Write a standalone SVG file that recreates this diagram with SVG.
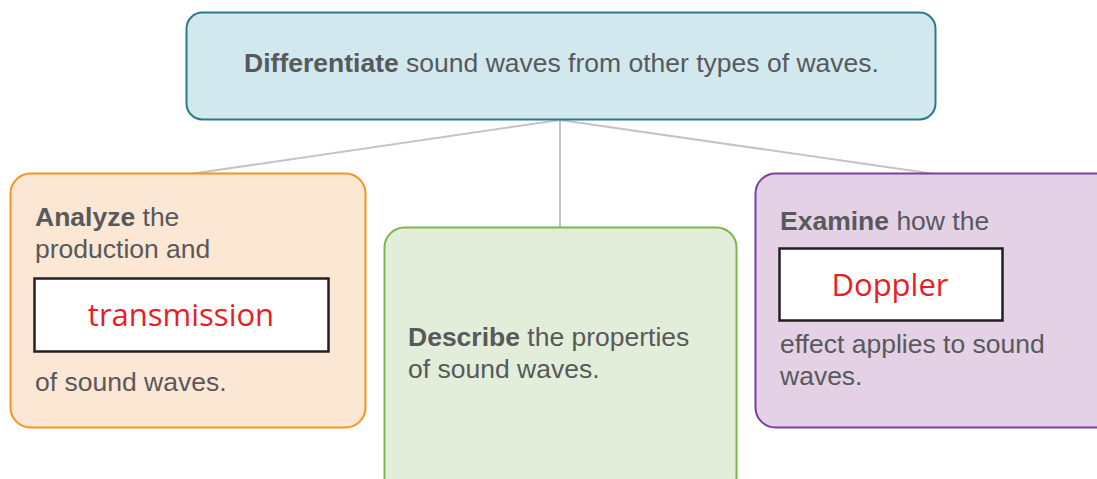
<svg xmlns="http://www.w3.org/2000/svg" width="1097" height="479" viewBox="0 0 1097 479">
<style>
.t{font-family:"Liberation Sans",Arial,sans-serif;font-size:26.5px;fill:#58595b}
.b{font-weight:bold}
.hw{font-family:"Open Sans","DejaVu Sans",sans-serif;font-size:31px;fill:#ec1c24;text-anchor:middle}
.ib{fill:#fff;stroke:#231f20;stroke-width:2.5}
.c{stroke:#c4c4c4;stroke-width:2;fill:none}
</style>
<rect width="1097" height="479" fill="#fff"/>
<g id="connectors">
<line class="c" x1="560" y1="120" x2="190" y2="174"/>
<line class="c" x1="560" y1="120" x2="560" y2="228"/>
<line class="c" x1="560" y1="120" x2="935" y2="174"/>
</g>
<g id="top">
<rect x="186.5" y="12.5" width="749" height="107" rx="16" fill="#d1e8ef" stroke="#2b7a84" stroke-width="2"/>
<text class="t" x="561.5" y="72" text-anchor="middle"><tspan class="b">Differentiate</tspan> sound waves from other types of waves.</text>
</g>
<g id="analyze">
<rect x="10.5" y="173.5" width="355" height="254" rx="20" fill="#fce6d4" stroke="#f7941d" stroke-width="2"/>
<text class="t" x="35" y="226"><tspan class="b">Analyze</tspan> the</text>
<text class="t" x="35" y="258">production and</text>
<rect class="ib" x="34.5" y="278.5" width="294" height="73"/>
<text class="hw" x="181" y="326">transmission</text>
<text class="t" x="35" y="391">of sound waves.</text>
</g>
<g id="describe">
<rect x="384.5" y="227.5" width="352" height="270" rx="20" fill="#e2eed9" stroke="#7ab648" stroke-width="2"/>
<text class="t" x="408" y="346"><tspan class="b">Describe</tspan> the properties</text>
<text class="t" x="408" y="378">of sound waves.</text>
</g>
<g id="examine">
<rect x="755.5" y="173.5" width="360" height="254" rx="20" fill="#e4d1e6" stroke="#7b3f9d" stroke-width="2"/>
<text class="t" x="780" y="230"><tspan class="b">Examine</tspan> how the</text>
<rect class="ib" x="779.5" y="248.5" width="223" height="72"/>
<text class="hw" x="890" y="296">Doppler</text>
<text class="t" x="780" y="353">effect applies to sound</text>
<text class="t" x="780" y="385">waves.</text>
</g>
</svg>
